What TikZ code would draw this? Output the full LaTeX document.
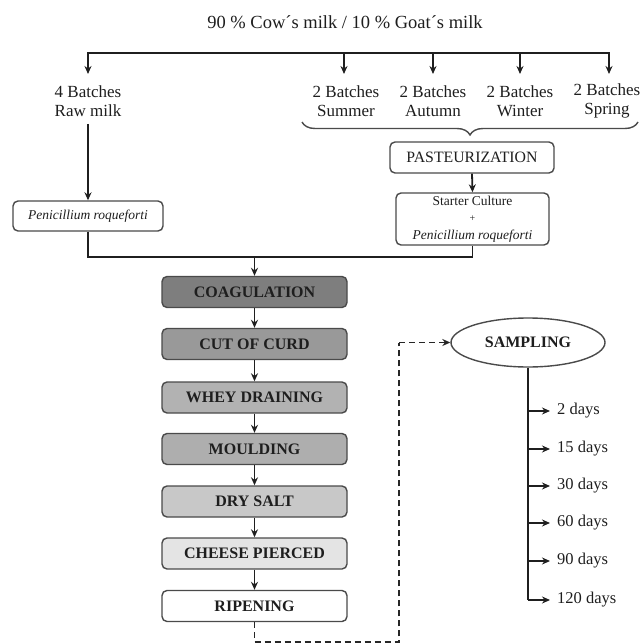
\documentclass[tikz,border=0pt]{standalone}
\usepackage{fontspec}
\setmainfont{Liberation Serif}
\usetikzlibrary{arrows.meta,shapes.geometric,decorations.pathreplacing}
\definecolor{bord}{HTML}{4A4A4A}
\definecolor{txt}{HTML}{1E1E1E}
\definecolor{fA}{HTML}{7E7E7E}
\definecolor{fB}{HTML}{999999}
\definecolor{fC}{HTML}{B2B2B2}
\definecolor{fD}{HTML}{AEAEAE}
\definecolor{fE}{HTML}{C8C8C8}
\definecolor{fF}{HTML}{E4E4E4}
\tikzset{
  conn/.style={line width=1.8pt, draw=black!88},
  arr/.style={conn, -{Stealth[length=8pt,width=7pt]}},
  darr/.style={line width=1.5pt, draw=black!85, dash pattern=on 6pt off 4pt},
  rbox/.style={draw=bord, line width=1.4pt, rounded corners=5pt, text=txt, align=center, inner sep=0pt},
  step box/.style={rbox, minimum width=185pt, minimum height=31pt, font=\fontsize{16}{18}\selectfont\bfseries},
  lbl/.style={align=center, text=txt, font=\fontsize{17}{19.5}\selectfont, inner sep=0pt},
  day/.style={anchor=west, text=txt, font=\fontsize{16.5}{18}\selectfont, inner sep=0pt},
}
\begin{document}
\begin{tikzpicture}[x=1pt,y=-1pt]
\useasboundingbox (0,0) rectangle (640,644);

\node[text=txt, font=\fontsize{18.5}{22}\selectfont, inner sep=0pt] (title) at (345,22) {90 \% Cow´s milk / 10 \% Goat´s milk};

% top distribution line
\coordinate (tl) at (88,53);
\coordinate (tr) at (609,53);
\draw[conn, line cap=rect] (tl) -- (tr);
\coordinate (t1) at (344,53);
\coordinate (t2) at (433,53);
\coordinate (t3) at (520,53);

\node[lbl] (raw) at (88,101) {4 Batches\\Raw milk};
\node[lbl] (sum) at (346,101) {2 Batches\\Summer};
\node[lbl] (aut) at (433,101) {2 Batches\\Autumn};
\node[lbl] (win) at (520,101) {2 Batches\\Winter};
\node[lbl] (spr) at (607,101) {2 Batches\\Spring};

\draw[arr] (tl) -- (88,74);
\draw[arr] (t1) -- (344,74);
\draw[arr] (t2) -- (433,74);
\draw[arr] (t3) -- (520,74);
\draw[arr] (tr) -- (609,74);

% brace
\coordinate (bl) at (302,122);
\coordinate (br) at (638,122);
\draw[line width=1.4pt, draw=bord, decorate, decoration={brace, mirror, amplitude=13pt}] (bl) -- (br);

\node[rbox, minimum width=164pt, minimum height=31pt, font=\fontsize{15.8}{18}\selectfont] (past) at (472,157.5) {PASTEURIZATION};
\node[rbox, minimum width=153pt, minimum height=52pt, font=\fontsize{13.5}{16}\selectfont] (start) at (472.5,219) {Starter Culture\\[0pt]{\fontsize{10}{10}\selectfont +}\\[2pt]\textit{Penicillium roqueforti}};
\node[rbox, minimum width=150pt, minimum height=30pt, font=\fontsize{13.5}{15}\selectfont\itshape] (pen) at (88,216) {Penicillium roqueforti};

\draw[arr] (88,124) -- (pen.north);
\draw[arr] (past.south) -- (start.north);

% main column
\node[step box, fill=fA] (coag) at (254.5,292) {COAGULATION};
\node[step box, fill=fB] (cut) at (254.5,344) {CUT OF CURD};
\node[step box, fill=fC] (whey) at (254.5,397.5) {WHEY DRAINING};
\node[step box, fill=fD] (mould) at (254.5,449) {MOULDING};
\node[step box, fill=fE] (salt) at (254.5,501.5) {DRY SALT};
\node[step box, fill=fF] (pierce) at (254.5,553.5) {CHEESE PIERCED};
\node[step box, fill=white] (ripe) at (254.5,606) {RIPENING};

\coordinate (mrg) at (254.5,257);
\draw[conn] (pen.south) |- (mrg) -| (start.south);
\draw[arr] (mrg) -- (coag.north);
\draw[arr] (coag) -- (cut);
\draw[arr] (cut) -- (whey);
\draw[arr] (whey) -- (mould);
\draw[arr] (mould) -- (salt);
\draw[arr] (salt) -- (pierce);
\draw[arr] (pierce) -- (ripe);

% sampling
\node[ellipse, draw=bord, line width=1.4pt, minimum width=154pt, minimum height=49pt, inner sep=0pt, text=txt, font=\fontsize{16}{18}\selectfont\bfseries] (samp) at (528,342.5) {SAMPLING};
\coordinate (d1) at (254.5,642);
\coordinate (d2) at (399,642);
\coordinate (d3) at (399,342.5);
\draw[darr] (ripe.south) -- (d1) -- (d2) -- (d3);
\draw[darr, -{Stealth[length=8pt,width=7pt]}] (d3) -- (samp.west);

\coordinate (s6) at (528,600);
\draw[conn] (samp.south) -- (s6);
\foreach \yy/\tx/\nm in {411/2 days/a, 449/15 days/b, 486/30 days/c, 523/60 days/d, 561/90 days/e, 600/120 days/f}{
  \coordinate (p\nm) at (528,\yy);
  \node[day] (l\nm) at (557,\yy) {\tx};
  \draw[arr] (p\nm) -- ([xshift=-7pt]l\nm.west);
}
\end{tikzpicture}
\end{document}
